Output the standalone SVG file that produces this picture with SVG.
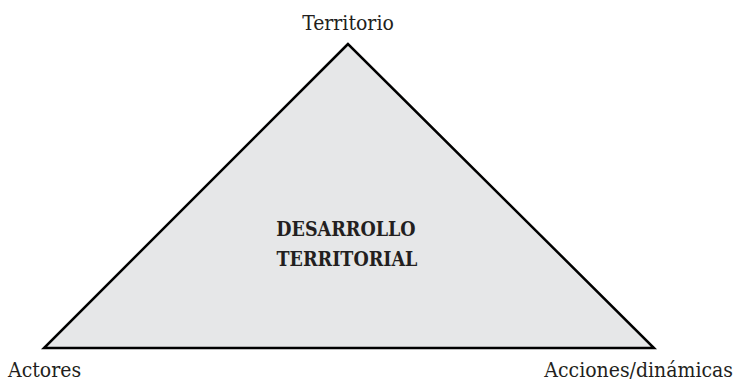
<svg xmlns="http://www.w3.org/2000/svg" width="739" height="381" viewBox="0 0 739 381">
<style>
.lbl{font-family:"DejaVu Serif Condensed","DejaVu Serif",serif;font-stretch:condensed;font-size:21px;fill:#231f20}
.ctr{font-family:"DejaVu Serif Condensed","DejaVu Serif",serif;font-stretch:condensed;font-size:19.5px;font-weight:bold;fill:#231f20;text-anchor:middle}
</style>
<rect width="739" height="381" fill="#ffffff"/>
<g id="triangle">
<polygon points="348,44 44,348 654,348" fill="#e6e7e8" stroke="#000000" stroke-width="2.5" stroke-linejoin="miter"/>
<text class="ctr" x="346" y="236">DESARROLLO</text>
<text class="ctr" x="347" y="266">TERRITORIAL</text>
</g>
<g id="territorio"><text class="lbl" x="348" y="30" text-anchor="middle">Territorio</text></g>
<g id="actores"><text class="lbl" x="8" y="377">Actores</text></g>
<g id="acciones"><text class="lbl" x="733" y="377" text-anchor="end">Acciones/dinámicas</text></g>
<g id="connectors"></g>
</svg>
